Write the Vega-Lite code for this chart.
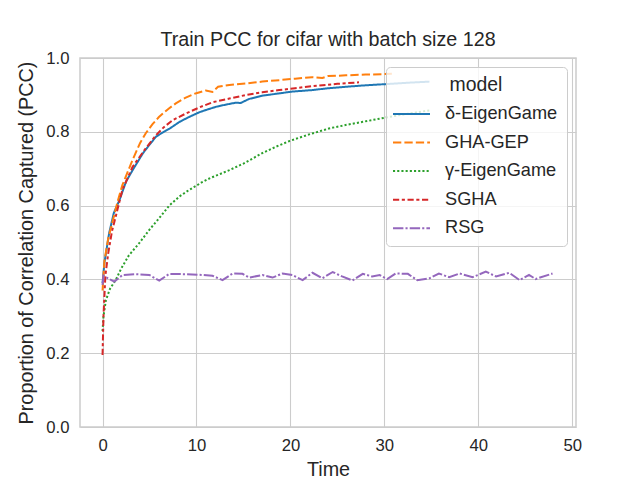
{
  "$schema": "https://vega.github.io/schema/vega-lite/v6.json",
  "description": "Train PCC for cifar with batch size 128, one line per model.",
  "autosize": "none",
  "padding": {"left": 80, "top": 58, "right": 64, "bottom": 53},
  "width": 496,
  "height": 369,
  "title": {"text": "Train PCC for cifar with batch size 128", "fontSize": 19.7, "fontWeight": "normal", "font": "Liberation Sans", "color": "#262626", "baseline": "alphabetic", "offset": 8, "dy": 23.5},
  "config": {
    "font": "Liberation Sans",
    "view": {"stroke": "#cccccc", "strokeWidth": 1.5},
    "axis": {
      "grid": true, "gridColor": "#cccccc", "gridWidth": 1.1,
      "domain": false, "ticks": false,
      "labelFontSize": 16.7, "labelColor": "#262626",
      "titleFontSize": 19.8, "titleFontWeight": "normal", "titleColor": "#262626"
    }
  },
  "data": {
    "values": [
      {"model": "δ-EigenGame", "time": 0, "pcc": 0.39},
      {"model": "δ-EigenGame", "time": 0.2, "pcc": 0.445},
      {"model": "δ-EigenGame", "time": 0.7, "pcc": 0.525},
      {"model": "δ-EigenGame", "time": 1.2, "pcc": 0.58},
      {"model": "δ-EigenGame", "time": 1.8, "pcc": 0.615},
      {"model": "δ-EigenGame", "time": 2.5, "pcc": 0.665},
      {"model": "δ-EigenGame", "time": 3.2, "pcc": 0.696},
      {"model": "δ-EigenGame", "time": 4.3, "pcc": 0.742},
      {"model": "δ-EigenGame", "time": 5.0, "pcc": 0.765},
      {"model": "δ-EigenGame", "time": 5.7, "pcc": 0.787},
      {"model": "δ-EigenGame", "time": 6.4, "pcc": 0.798},
      {"model": "δ-EigenGame", "time": 7.1, "pcc": 0.808},
      {"model": "δ-EigenGame", "time": 8.2, "pcc": 0.827},
      {"model": "δ-EigenGame", "time": 9.2, "pcc": 0.84},
      {"model": "δ-EigenGame", "time": 10.3, "pcc": 0.853},
      {"model": "δ-EigenGame", "time": 11.0, "pcc": 0.859},
      {"model": "δ-EigenGame", "time": 12.1, "pcc": 0.868},
      {"model": "δ-EigenGame", "time": 13.2, "pcc": 0.874},
      {"model": "δ-EigenGame", "time": 14.2, "pcc": 0.879},
      {"model": "δ-EigenGame", "time": 14.7, "pcc": 0.878},
      {"model": "δ-EigenGame", "time": 15.6, "pcc": 0.889},
      {"model": "δ-EigenGame", "time": 17.0, "pcc": 0.898},
      {"model": "δ-EigenGame", "time": 18.5, "pcc": 0.903},
      {"model": "δ-EigenGame", "time": 20.2, "pcc": 0.909},
      {"model": "δ-EigenGame", "time": 22.3, "pcc": 0.913},
      {"model": "δ-EigenGame", "time": 24.0, "pcc": 0.918},
      {"model": "δ-EigenGame", "time": 25.9, "pcc": 0.922},
      {"model": "δ-EigenGame", "time": 28.0, "pcc": 0.926},
      {"model": "δ-EigenGame", "time": 30.0, "pcc": 0.929},
      {"model": "δ-EigenGame", "time": 32.5, "pcc": 0.933},
      {"model": "δ-EigenGame", "time": 34.8, "pcc": 0.936},

      {"model": "GHA-GEP", "time": 0, "pcc": 0.37},
      {"model": "GHA-GEP", "time": 0.2, "pcc": 0.45},
      {"model": "GHA-GEP", "time": 0.6, "pcc": 0.51},
      {"model": "GHA-GEP", "time": 1.1, "pcc": 0.56},
      {"model": "GHA-GEP", "time": 1.6, "pcc": 0.61},
      {"model": "GHA-GEP", "time": 2.1, "pcc": 0.655},
      {"model": "GHA-GEP", "time": 3.2, "pcc": 0.724},
      {"model": "GHA-GEP", "time": 4.0, "pcc": 0.77},
      {"model": "GHA-GEP", "time": 4.6, "pcc": 0.796},
      {"model": "GHA-GEP", "time": 5.3, "pcc": 0.82},
      {"model": "GHA-GEP", "time": 6.0, "pcc": 0.84},
      {"model": "GHA-GEP", "time": 7.0, "pcc": 0.862},
      {"model": "GHA-GEP", "time": 7.8, "pcc": 0.877},
      {"model": "GHA-GEP", "time": 8.8, "pcc": 0.892},
      {"model": "GHA-GEP", "time": 9.9, "pcc": 0.904},
      {"model": "GHA-GEP", "time": 11.0, "pcc": 0.912},
      {"model": "GHA-GEP", "time": 11.7, "pcc": 0.908},
      {"model": "GHA-GEP", "time": 12.3, "pcc": 0.922},
      {"model": "GHA-GEP", "time": 13.5, "pcc": 0.927},
      {"model": "GHA-GEP", "time": 15.3, "pcc": 0.931},
      {"model": "GHA-GEP", "time": 17.0, "pcc": 0.936},
      {"model": "GHA-GEP", "time": 18.8, "pcc": 0.94},
      {"model": "GHA-GEP", "time": 20.5, "pcc": 0.944},
      {"model": "GHA-GEP", "time": 22.3, "pcc": 0.948},
      {"model": "GHA-GEP", "time": 23.4, "pcc": 0.946},
      {"model": "GHA-GEP", "time": 24.0, "pcc": 0.951},
      {"model": "GHA-GEP", "time": 25.9, "pcc": 0.953},
      {"model": "GHA-GEP", "time": 28.0, "pcc": 0.955},
      {"model": "GHA-GEP", "time": 30.8, "pcc": 0.957},

      {"model": "γ-EigenGame", "time": 0, "pcc": 0.26},
      {"model": "γ-EigenGame", "time": 0.1, "pcc": 0.3},
      {"model": "γ-EigenGame", "time": 0.36, "pcc": 0.344},
      {"model": "γ-EigenGame", "time": 0.8, "pcc": 0.375},
      {"model": "γ-EigenGame", "time": 1.4, "pcc": 0.398},
      {"model": "γ-EigenGame", "time": 2.0, "pcc": 0.43},
      {"model": "γ-EigenGame", "time": 2.8, "pcc": 0.465},
      {"model": "γ-EigenGame", "time": 3.9, "pcc": 0.498},
      {"model": "γ-EigenGame", "time": 5.0, "pcc": 0.535},
      {"model": "γ-EigenGame", "time": 6.0, "pcc": 0.565},
      {"model": "γ-EigenGame", "time": 7.1, "pcc": 0.6},
      {"model": "γ-EigenGame", "time": 8.2, "pcc": 0.625},
      {"model": "γ-EigenGame", "time": 9.2, "pcc": 0.642},
      {"model": "γ-EigenGame", "time": 10.5, "pcc": 0.662},
      {"model": "γ-EigenGame", "time": 11.4, "pcc": 0.674},
      {"model": "γ-EigenGame", "time": 13.5, "pcc": 0.696},
      {"model": "γ-EigenGame", "time": 15.0, "pcc": 0.714},
      {"model": "γ-EigenGame", "time": 17.0, "pcc": 0.742},
      {"model": "γ-EigenGame", "time": 18.5, "pcc": 0.76},
      {"model": "γ-EigenGame", "time": 19.9, "pcc": 0.775},
      {"model": "γ-EigenGame", "time": 22.0, "pcc": 0.793},
      {"model": "γ-EigenGame", "time": 24.1, "pcc": 0.809},
      {"model": "γ-EigenGame", "time": 26.0, "pcc": 0.819},
      {"model": "γ-EigenGame", "time": 27.7, "pcc": 0.827},
      {"model": "γ-EigenGame", "time": 30.0, "pcc": 0.838},
      {"model": "γ-EigenGame", "time": 32.5, "pcc": 0.849},
      {"model": "γ-EigenGame", "time": 34.8, "pcc": 0.858},

      {"model": "SGHA", "time": 0, "pcc": 0.195},
      {"model": "SGHA", "time": 0.1, "pcc": 0.3},
      {"model": "SGHA", "time": 0.3, "pcc": 0.41},
      {"model": "SGHA", "time": 0.6, "pcc": 0.47},
      {"model": "SGHA", "time": 1.0, "pcc": 0.53},
      {"model": "SGHA", "time": 1.4, "pcc": 0.57},
      {"model": "SGHA", "time": 2.1, "pcc": 0.642},
      {"model": "SGHA", "time": 3.2, "pcc": 0.705},
      {"model": "SGHA", "time": 4.5, "pcc": 0.752},
      {"model": "SGHA", "time": 5.7, "pcc": 0.791},
      {"model": "SGHA", "time": 6.5, "pcc": 0.812},
      {"model": "SGHA", "time": 7.5, "pcc": 0.832},
      {"model": "SGHA", "time": 8.9, "pcc": 0.85},
      {"model": "SGHA", "time": 10.3, "pcc": 0.866},
      {"model": "SGHA", "time": 11.7, "pcc": 0.88},
      {"model": "SGHA", "time": 13.5, "pcc": 0.89},
      {"model": "SGHA", "time": 15.3, "pcc": 0.9},
      {"model": "SGHA", "time": 17.0, "pcc": 0.907},
      {"model": "SGHA", "time": 18.8, "pcc": 0.913},
      {"model": "SGHA", "time": 20.5, "pcc": 0.918},
      {"model": "SGHA", "time": 22.4, "pcc": 0.924},
      {"model": "SGHA", "time": 25.0, "pcc": 0.93},
      {"model": "SGHA", "time": 27.3, "pcc": 0.934},

      {"model": "RSG", "time": 0, "pcc": 0.385},
      {"model": "RSG", "time": 0.1, "pcc": 0.41},
      {"model": "RSG", "time": 0.36, "pcc": 0.406},
      {"model": "RSG", "time": 1.25, "pcc": 0.394},
      {"model": "RSG", "time": 2.13, "pcc": 0.412},
      {"model": "RSG", "time": 3.55, "pcc": 0.414},
      {"model": "RSG", "time": 4.97, "pcc": 0.412},
      {"model": "RSG", "time": 6.04, "pcc": 0.397},
      {"model": "RSG", "time": 7.1, "pcc": 0.415},
      {"model": "RSG", "time": 8.87, "pcc": 0.414},
      {"model": "RSG", "time": 10.65, "pcc": 0.412},
      {"model": "RSG", "time": 11.7, "pcc": 0.41},
      {"model": "RSG", "time": 12.77, "pcc": 0.398},
      {"model": "RSG", "time": 13.84, "pcc": 0.416},
      {"model": "RSG", "time": 14.9, "pcc": 0.415},
      {"model": "RSG", "time": 15.6, "pcc": 0.405},
      {"model": "RSG", "time": 17.03, "pcc": 0.412},
      {"model": "RSG", "time": 18.1, "pcc": 0.405},
      {"model": "RSG", "time": 19.16, "pcc": 0.416},
      {"model": "RSG", "time": 20.2, "pcc": 0.412},
      {"model": "RSG", "time": 21.3, "pcc": 0.398},
      {"model": "RSG", "time": 22.35, "pcc": 0.418},
      {"model": "RSG", "time": 23.4, "pcc": 0.403},
      {"model": "RSG", "time": 24.5, "pcc": 0.42},
      {"model": "RSG", "time": 25.5, "pcc": 0.408},
      {"model": "RSG", "time": 26.6, "pcc": 0.397},
      {"model": "RSG", "time": 27.7, "pcc": 0.415},
      {"model": "RSG", "time": 28.7, "pcc": 0.408},
      {"model": "RSG", "time": 29.5, "pcc": 0.412},
      {"model": "RSG", "time": 30.3, "pcc": 0.401},
      {"model": "RSG", "time": 31.2, "pcc": 0.416},
      {"model": "RSG", "time": 32.5, "pcc": 0.415},
      {"model": "RSG", "time": 33.5, "pcc": 0.398},
      {"model": "RSG", "time": 34.8, "pcc": 0.403},
      {"model": "RSG", "time": 35.8, "pcc": 0.416},
      {"model": "RSG", "time": 36.9, "pcc": 0.406},
      {"model": "RSG", "time": 38.0, "pcc": 0.416},
      {"model": "RSG", "time": 39.4, "pcc": 0.406},
      {"model": "RSG", "time": 40.8, "pcc": 0.421},
      {"model": "RSG", "time": 41.9, "pcc": 0.408},
      {"model": "RSG", "time": 43.3, "pcc": 0.418},
      {"model": "RSG", "time": 44.4, "pcc": 0.398},
      {"model": "RSG", "time": 45.4, "pcc": 0.412},
      {"model": "RSG", "time": 46.1, "pcc": 0.401},
      {"model": "RSG", "time": 47.9, "pcc": 0.416}
    ]
  },
  "mark": {"type": "line", "strokeWidth": 2, "strokeCap": "butt"},
  "encoding": {
    "x": {
      "field": "time", "type": "quantitative",
      "scale": {"domain": [-2.4, 50.4], "nice": false, "zero": false},
      "axis": {"title": "Time", "values": [0, 10, 20, 30, 40, 50], "labelPadding": 10, "titlePadding": 6}
    },
    "y": {
      "field": "pcc", "type": "quantitative",
      "scale": {"domain": [0, 1], "nice": false},
      "axis": {"title": "Proportion of Correlation Captured (PCC)", "values": [0, 0.2, 0.4, 0.6, 0.8, 1.0], "format": ".1f", "labelPadding": 11, "titlePadding": 9}
    },
    "color": {
      "field": "model", "type": "nominal",
      "scale": {"domain": ["δ-EigenGame", "GHA-GEP", "γ-EigenGame", "SGHA", "RSG"], "range": ["#1f77b4", "#ff7f0e", "#2ca02c", "#d62728", "#9467bd"]},
      "legend": {
        "title": "model", "orient": "none", "legendX": 306, "legendY": 9,
        "titleFontSize": 19.4, "titleFontWeight": "normal", "titleColor": "#262626", "titleAnchor": "middle", "titlePadding": 4,
        "labelFontSize": 18.2, "labelColor": "#262626", "labelOffset": 19,
        "symbolType": "M-1.37,0H1.37", "symbolSize": 729, "symbolStrokeWidth": 2, "symbolOffset": 2,
        "fillColor": "rgba(255,255,255,0.8)", "strokeColor": "#cccccc", "cornerRadius": 4, "padding": 9, "rowPadding": 5.6
      }
    },
    "strokeDash": {
      "field": "model", "type": "nominal",
      "scale": {"domain": ["δ-EigenGame", "GHA-GEP", "γ-EigenGame", "SGHA", "RSG"], "range": [[1, 0], [8.3, 3.1], [2.1, 2.1], [6.2, 2.6, 3.1, 2.6], [10.4, 2.1, 2.1, 2.1]]},
      "legend": {
        "title": "model", "orient": "none", "legendX": 306, "legendY": 9,
        "titleFontSize": 19.4, "titleFontWeight": "normal", "titleColor": "#262626", "titleAnchor": "middle", "titlePadding": 4,
        "labelFontSize": 18.2, "labelColor": "#262626", "labelOffset": 19,
        "symbolType": "M-1.37,0H1.37", "symbolSize": 729, "symbolStrokeWidth": 2, "symbolOffset": 2,
        "fillColor": "rgba(255,255,255,0.8)", "strokeColor": "#cccccc", "cornerRadius": 4, "padding": 9, "rowPadding": 5.6
      }
    }
  }
}
